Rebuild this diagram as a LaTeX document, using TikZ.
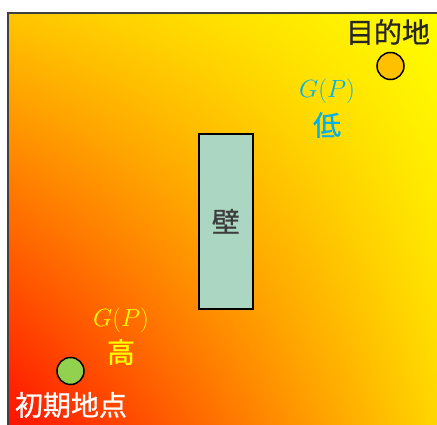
\documentclass[tikz,border=0pt]{standalone}
\usepackage{fontspec}
\usetikzlibrary{shadings}
\newfontfamily\cjk[FakeBold=0.7]{Noto Sans CJK JP}
\definecolor{gUL}{RGB}{255,198,0}
\definecolor{gLR}{RGB}{255,215,0}
\definecolor{gLL}{RGB}{255,15,0}
\definecolor{gUR}{RGB}{255,255,0}
\definecolor{wallfill}{RGB}{170,214,194}
\definecolor{goalfill}{RGB}{255,192,0}
\definecolor{startfill}{RGB}{146,208,80}
\definecolor{lowcol}{RGB}{0,176,240}
\definecolor{highcol}{RGB}{255,255,0}
\definecolor{darktext}{RGB}{38,38,38}
\definecolor{framecol}{RGB}{64,64,64}
\tikzset{
  cjklabel/.style={inner sep=0pt, font=\cjk\fontsize{28}{30}\selectfont},
  mathlabel/.style={inner sep=0pt, font=\fontsize{27}{30}\selectfont},
  marker/.style={circle, draw=black, line width=1.5pt, minimum size=27pt, inner sep=0pt},
  wallbox/.style={draw=black, line width=1.8pt, fill=wallfill},
}
\begin{document}
\begin{tikzpicture}[x=1pt,y=-1pt]
\useasboundingbox (0,0) rectangle (437,424);
\fill[white] (0,0) rectangle (437,424);
\begin{scope}
\clip (0,0) rectangle (437,424);
\shade[lower left=gLL, upper left=gUL, lower right=gLR, upper right=gUR] (8,13) rectangle (441,428);
\draw[framecol, line width=2pt] (8,13) rectangle (441,428);
\end{scope}
\node[wallbox, minimum width=54pt, minimum height=175pt, inner sep=0pt, anchor=north west] (wall) at (198,133) {};
\node[cjklabel, text=darktext!90] (walltext) at (wall.center) {壁};
\node[marker, fill=goalfill] (goal) at (390.5,66) {};
\node[cjklabel, text=darktext] (goaltext) at (388,32) {目的地};
\node[marker, fill=startfill] (start) at (70.5,371) {};
\node[cjklabel, text=white] (starttext) at (71,405) {初期地点};
\node[mathlabel, text=lowcol] (lowG) at (327,91) {$G(P)$};
\node[cjklabel, text=lowcol] (lowtext) at (327,125) {低};
\node[mathlabel, text=highcol] (highG) at (121,320) {$G(P)$};
\node[cjklabel, text=highcol] (hightext) at (121,352) {高};
\end{tikzpicture}
\end{document}
